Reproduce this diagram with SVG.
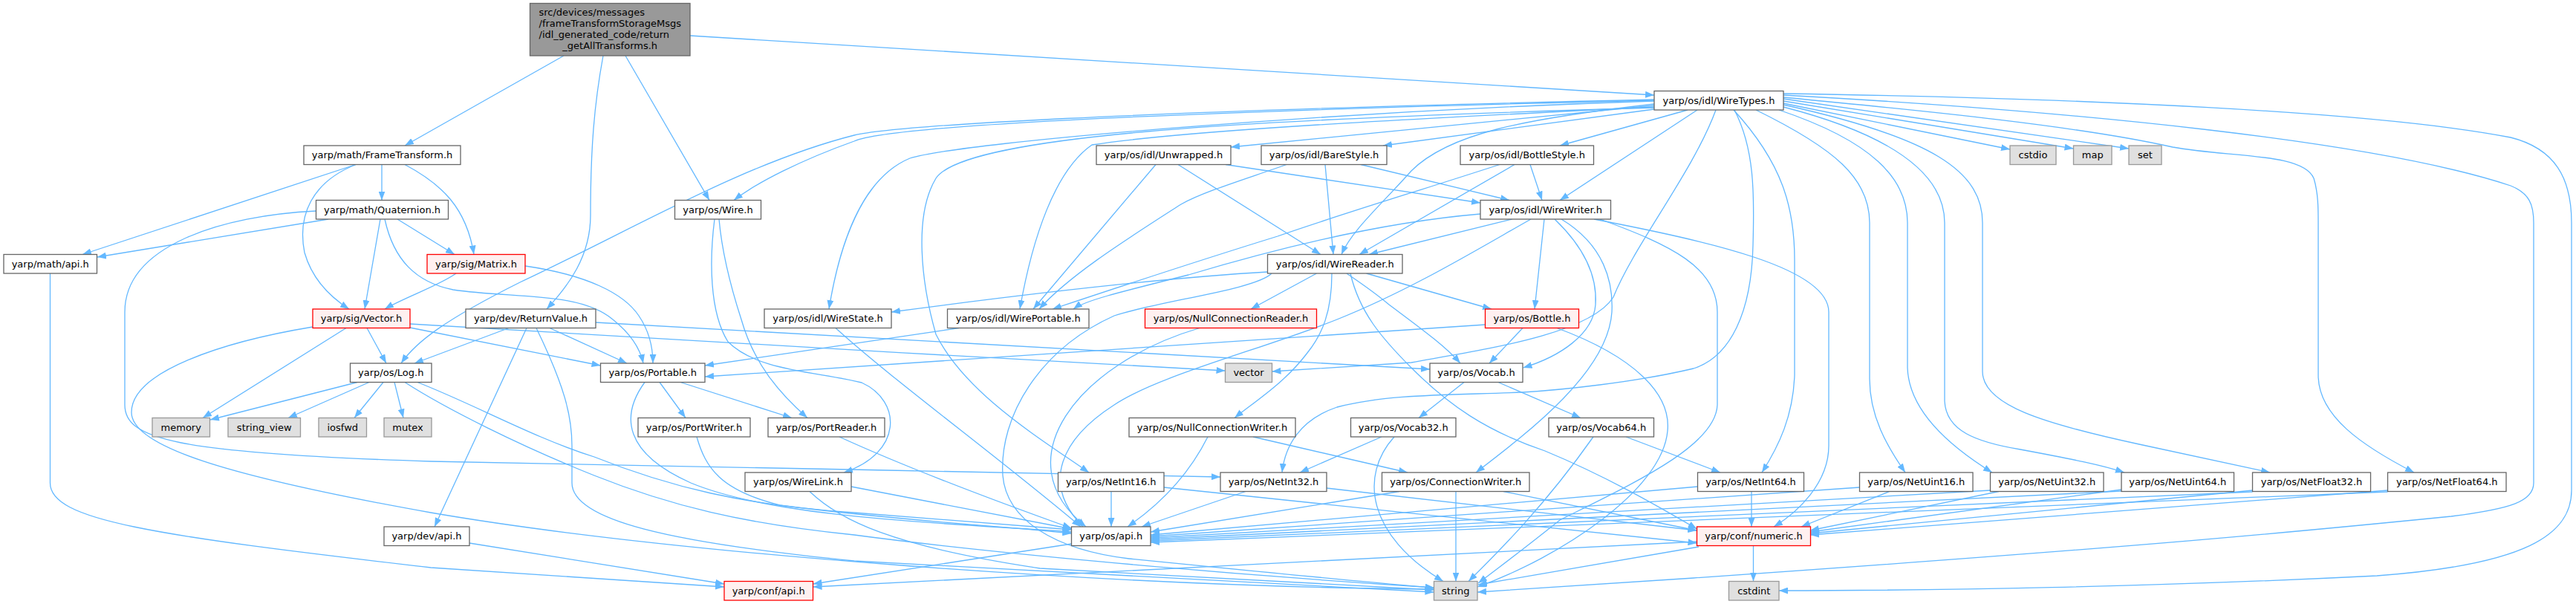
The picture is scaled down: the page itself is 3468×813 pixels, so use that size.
<svg xmlns="http://www.w3.org/2000/svg" width="3468" height="813" viewBox="0 0 3468 813">
<style>
.e{fill:none;stroke:#63B8FF;stroke-width:1.3;marker-end:url(#a)}
.b rect{fill:#FFFFFF;stroke:#666666;stroke-width:1.3}
.g rect{fill:#E0E0E0;stroke:#999999;stroke-width:1.3}
.r rect{fill:#FFF0F0;stroke:#FF0000;stroke-width:1.3}
.root rect{fill:#999999;stroke:#666666;stroke-width:1.3}
text{font-family:"DejaVu Sans","Liberation Sans",sans-serif;font-size:13px;fill:#000000;text-anchor:middle}
.l{text-anchor:start}
</style>
<defs>
<marker id="a" viewBox="0 0 12 9" refX="12" refY="4.5" markerWidth="12" markerHeight="9" markerUnits="userSpaceOnUse" orient="auto"><path d="M0,0 L12,4.5 L0,9 z" fill="#63B8FF"/></marker>
</defs>
<rect width="3468" height="813" fill="#FFFFFF"/>
<g id="edges">
<path class="e" d="M759,75 L545,196"/>
<path class="e" d="M812,75 C800,140 795,200 795,290 C795,345 765,385 736,416"/>
<path class="e" d="M842,75 L955,269.5"/>
<path class="e" d="M929,48 L2227,128"/>
<path class="e" d="M479,221.5 L111,342.5"/>
<path class="e" d="M514,221.5 L514,269.5"/>
<path class="e" d="M545,221.5 C595,248 628,280 638,342.5"/>
<path class="e" d="M479,221.5 C420,245 400,290 410,340 C420,375 445,400 470,416"/>
<path class="e" d="M442,295 L131,346"/>
<path class="e" d="M425.5,284 C300,290 168,330 168,420 L168,545 C168,590 230,610 580,621 C900,630 1300,633 1643,642"/>
<path class="e" d="M512,295 L491,416"/>
<path class="e" d="M518,295 C530,350 560,380 610,390 C690,402 780,392 825,430 C850,450 862,470 866,489"/>
<path class="e" d="M535,295 L612,342.5"/>
<path class="e" d="M614,368 C590,385 545,400 518,416"/>
<path class="e" d="M707,358 C790,370 840,395 860,425 C875,447 879,468 879,489"/>
<path class="e" d="M494,441.5 L520,489"/>
<path class="e" d="M466,441.5 L273,562.5"/>
<path class="e" d="M552,441 L808.5,492"/>
<path class="e" d="M552,436 C800,448 1300,482 1649.5,499"/>
<path class="e" d="M421,440 C300,460 177,500 177,555 C177,600 300,640 580,690 C900,745 1500,790 1930.5,793"/>
<path class="e" d="M481,514.5 L283,565"/>
<path class="e" d="M497,514.5 L388,562.5"/>
<path class="e" d="M516,514.5 L477,562.5"/>
<path class="e" d="M531,514.5 L543,562.5"/>
<path class="e" d="M562,514.5 C640,545 720,590 800,615 C900,655 1000,680 1150,690 L1442.5,713"/>
<path class="e" d="M545,514.5 C600,550 700,600 800,640 C900,680 1000,705 1150,720 C1300,740 1600,770 1930.5,791"/>
<path class="e" d="M888,514.5 L923,562.5"/>
<path class="e" d="M916,514.5 L1066,562.5"/>
<path class="e" d="M868,514.5 C835,560 840,610 930,650 C1050,700 1300,705 1442.5,716"/>
<path class="e" d="M938,588 C950,630 970,660 1050,680 C1200,700 1350,708 1442.5,718"/>
<path class="e" d="M1130,588 C1200,620 1300,660 1442.5,711"/>
<path class="e" d="M968,295 C972,340 985,390 998,430 C1015,490 1050,530 1087,562.5"/>
<path class="e" d="M962,295 C955,350 955,420 980,460 C1020,500 1100,500 1160,515 C1215,540 1215,610 1136,636"/>
<path class="e" d="M1146,655 L1442.5,712"/>
<path class="e" d="M1090,661.5 C1130,700 1200,735 1400,765 L1930.5,794"/>
<path class="e" d="M1125,441.5 C1200,510 1350,620 1455,709"/>
<path class="e" d="M1291,441.5 L949,492"/>
<path class="e" d="M1615,441.5 C1450,490 1350,620 1462,709"/>
<path class="e" d="M1626,588 C1600,640 1560,680 1518,709"/>
<path class="e" d="M1687,588 L1895,636"/>
<path class="e" d="M1496,661.5 L1496,709"/>
<path class="e" d="M1567,656 L2284.5,731"/>
<path class="e" d="M1677,661.5 L1537,709"/>
<path class="e" d="M1786,657 L2284.5,714"/>
<path class="e" d="M1860,588 L1750,636"/>
<path class="e" d="M1877,588 C1830,640 1840,720 1943,782.5"/>
<path class="e" d="M2145,588 C2080,680 2020,740 1977,782.5"/>
<path class="e" d="M2189,588 L2316,636"/>
<path class="e" d="M1971,514.5 L1910,562.5"/>
<path class="e" d="M2017,514.5 L2128,562.5"/>
<path class="e" d="M1999.5,437 L949,507"/>
<path class="e" d="M2050,441.5 L2005,489"/>
<path class="e" d="M2096,441.5 C2200,480 2250,530 2245,580 C2238,660 2100,750 1989,790"/>
<path class="e" d="M1960,661.5 L1960,782.5"/>
<path class="e" d="M2024,661.5 L2284.5,714"/>
<path class="e" d="M1884,661.5 L1549,716"/>
<path class="e" d="M2358,661.5 L2358,709"/>
<path class="e" d="M2285.5,655 L1549,720"/>
<path class="e" d="M2544,661.5 L2425,709"/>
<path class="e" d="M2503.5,656 L1549,722"/>
<path class="e" d="M2691,661.5 L2437,714"/>
<path class="e" d="M2679.5,660 L1549,724"/>
<path class="e" d="M2856,659 L2437,716"/>
<path class="e" d="M2856,661 L1549,726"/>
<path class="e" d="M3032.5,660 L2437,718"/>
<path class="e" d="M3032.5,662 L1549,728"/>
<path class="e" d="M3214.5,660 L2437,720"/>
<path class="e" d="M3214.5,662 L1549,730"/>
<path class="e" d="M2360.5,734.5 L2360.5,782.5"/>
<path class="e" d="M2287,736 L1990,787"/>
<path class="e" d="M2285,729 L1094.5,790"/>
<path class="e" d="M1442.5,732 L1094.5,786"/>
<path class="e" d="M632,731 L975,786"/>
<path class="e" d="M67.5,368 L67.5,650 C67.5,700 200,720 580,764 L975,790"/>
<path class="e" d="M685,441.5 L558,489"/>
<path class="e" d="M740,441.5 L844,489"/>
<path class="e" d="M709,441.5 L585,709"/>
<path class="e" d="M722,441.5 C760,520 770,560 770,600 L770,650 C770,700 900,730 1150,755 L1930.5,797"/>
<path class="e" d="M802,434 L1925,497"/>
<path class="e" d="M2227,142 L1657,198"/>
<path class="e" d="M2227,147 L1862,196"/>
<path class="e" d="M2272,148 L2100,196"/>
<path class="e" d="M2285,148 L2100,269.5"/>
<path class="e" d="M2227,140 C2050,160 1950,180 1900,230 C1860,275 1820,310 1806,342.5"/>
<path class="e" d="M2227,144 C1900,160 1600,175 1470,195 C1420,230 1390,320 1373,416"/>
<path class="e" d="M2227,136 C1800,150 1300,190 1225,213 C1160,240 1130,330 1116,416"/>
<path class="e" d="M2227,135 C1600,150 1200,168 1150,190 C1080,215 1020,245 988,269.5"/>
<path class="e" d="M2227,134 C1500,150 1200,170 1150,182 C1000,220 850,310 700,380 C600,430 560,460 540,489"/>
<path class="e" d="M2227,145 C1700,160 1300,180 1260,240 C1230,290 1240,380 1260,450 C1300,530 1400,590 1466,636"/>
<path class="e" d="M2310,148 C2280,230 2200,330 2172,400 C2140,450 2000,470 1900,488 L1712.5,500"/>
<path class="e" d="M2335,148 C2362,200 2362,260 2360,330 C2358,420 2330,480 2280,496 C2200,515 2100,525 2050,528 C1950,532 1870,530 1800,548 C1750,565 1730,600 1726,636"/>
<path class="e" d="M2334,148 C2400,220 2416,280 2416,350 L2416,505 C2414,560 2395,600 2372,636"/>
<path class="e" d="M2364,148 C2470,200 2517,240 2517,300 L2517,510 C2517,560 2540,600 2565,636"/>
<path class="e" d="M2395,148 C2520,190 2568,240 2568,300 L2568,495 C2570,560 2640,610 2682,636"/>
<path class="e" d="M2401,144 C2560,185 2618,240 2618,300 L2618,540 C2620,580 2660,595 2720,605 C2790,618 2830,626 2860,636"/>
<path class="e" d="M2401,141 C2600,185 2669,230 2669,300 L2669,500 C2669,545 2750,570 2880,598 L3056,636"/>
<path class="e" d="M2401,139 L2706,201"/>
<path class="e" d="M2401,136 L2791.5,200"/>
<path class="e" d="M2401,133 L2866,200"/>
<path class="e" d="M2401,131 C2600,150 2800,170 2925,198 C3000,212 3100,205 3115,240 C3121,260 3121,280 3121,300 L3121,505 C3121,560 3180,600 3250,636"/>
<path class="e" d="M2401,128 C2800,150 3200,190 3380,250 C3405,260 3411,275 3411,300 L3411,650 C3411,675 3380,685 3300,695 C3100,715 2900,735 2280,778 L1989,797"/>
<path class="e" d="M2401,126 C2800,132 3200,150 3380,185 C3440,200 3462,240 3462,300 L3462,660 C3462,720 3400,760 3200,775 C2900,790 2600,795 2395,795"/>
<path class="e" d="M1993,288 C1850,300 1700,340 1600,370 C1500,395 1460,405 1445,416"/>
<path class="e" d="M2035.5,295 L1843,342.5"/>
<path class="e" d="M2061,295 C1990,335 1900,390 1800,430 C1700,470 1560,505 1500,545 C1430,590 1400,650 1458,709"/>
<path class="e" d="M2079,295 L2066,416"/>
<path class="e" d="M2093,295 C2140,340 2150,380 2148,410 C2145,450 2100,480 2050.5,495"/>
<path class="e" d="M2102,295 C2160,330 2172,380 2170,420 C2165,500 2060,580 1987,636"/>
<path class="e" d="M2146,295 C2300,325 2462,360 2462,420 L2462,600 C2462,650 2420,690 2388,709"/>
<path class="e" d="M2154,295 C2250,330 2312,360 2312,420 L2312,545 C2310,600 2200,650 2100,700 C2050,740 2010,770 1990,785"/>
<path class="e" d="M1706.5,366 C1550,375 1350,400 1200,420"/>
<path class="e" d="M1772.5,368 L1684,416"/>
<path class="e" d="M1813,368 C1835,383 1850,393 1870,410 C1910,440 1945,465 1966,489"/>
<path class="e" d="M1818,368 C1830,420 1860,455 1900,495 C1950,545 2000,580 2080,607 C2160,640 2230,680 2284.5,712"/>
<path class="e" d="M1793,368 C1793,420 1780,450 1760,475 C1730,515 1690,540 1662,562.5"/>
<path class="e" d="M1839.5,368 L2008,416"/>
<path class="e" d="M1712,368 C1690,390 1560,405 1500,425 C1400,470 1345,560 1350,640 C1355,700 1420,740 1520,752 C1700,770 1850,785 1930.5,791"/>
<path class="e" d="M1556,221.5 L1391,416"/>
<path class="e" d="M1650,221.5 L1993,273"/>
<path class="e" d="M1586,221.5 L1778,342.5"/>
<path class="e" d="M1732,221.5 C1680,240 1620,258 1590,275 C1520,320 1440,370 1399,416"/>
<path class="e" d="M1784,221.5 L1795,342.5"/>
<path class="e" d="M1832,221.5 L2032,269.5"/>
<path class="e" d="M2019,221.5 C1900,260 1800,290 1720,318 C1600,355 1480,395 1417,416"/>
<path class="e" d="M2039,221.5 L1830,342.5"/>
<path class="e" d="M2060,221.5 L2076,269.5"/>
</g>
<g id="n_root" class="root"><rect x="713.5" y="4.5" width="215.5" height="70.5"/>
<text class="l" x="725.5" y="21">src/devices/messages</text>
<text class="l" x="725.5" y="36">/frameTransformStorageMsgs</text>
<text class="l" x="725.5" y="51">/idl_generated_code/return</text>
<text x="821.2" y="66">_getAllTransforms.h</text></g>
<g id="n_wiretypes" class="b"><rect x="2227" y="122.5" width="174" height="25.5"/><text x="2314" y="139.9">yarp/os/idl/WireTypes.h</text></g>
<g id="n_frametransform" class="b"><rect x="409" y="196" width="211" height="25.5"/><text x="514.5" y="213.4">yarp/math/FrameTransform.h</text></g>
<g id="n_unwrapped" class="b"><rect x="1476" y="196" width="181" height="25.5"/><text x="1566.5" y="213.4">yarp/os/idl/Unwrapped.h</text></g>
<g id="n_barestyle" class="b"><rect x="1698" y="196" width="169" height="25.5"/><text x="1782.5" y="213.4">yarp/os/idl/BareStyle.h</text></g>
<g id="n_bottlestyle" class="b"><rect x="1966" y="196" width="179.5" height="25.5"/><text x="2055.75" y="213.4">yarp/os/idl/BottleStyle.h</text></g>
<g id="n_cstdio" class="g"><rect x="2706" y="196" width="62" height="25.5"/><text x="2737" y="213.4">cstdio</text></g>
<g id="n_map" class="g"><rect x="2791.5" y="196" width="51.5" height="25.5"/><text x="2817.25" y="213.4">map</text></g>
<g id="n_set" class="g"><rect x="2866" y="196" width="44" height="25.5"/><text x="2888" y="213.4">set</text></g>
<g id="n_quaternion" class="b"><rect x="425.5" y="269.5" width="178" height="25.5"/><text x="514.5" y="286.9">yarp/math/Quaternion.h</text></g>
<g id="n_wire" class="b"><rect x="908.5" y="269.5" width="116" height="25.5"/><text x="966.5" y="286.9">yarp/os/Wire.h</text></g>
<g id="n_wirewriter" class="b"><rect x="1993" y="269.5" width="175.5" height="25.5"/><text x="2080.75" y="286.9">yarp/os/idl/WireWriter.h</text></g>
<g id="n_mathapi" class="b"><rect x="5" y="342.5" width="125.5" height="25.5"/><text x="67.75" y="359.9">yarp/math/api.h</text></g>
<g id="n_matrix" class="r"><rect x="575" y="342.5" width="132" height="25.5"/><text x="641" y="359.9">yarp/sig/Matrix.h</text></g>
<g id="n_wirereader" class="b"><rect x="1706.5" y="342.5" width="181.5" height="25.5"/><text x="1797.25" y="359.9">yarp/os/idl/WireReader.h</text></g>
<g id="n_vector_h" class="r"><rect x="421" y="416" width="131" height="25.5"/><text x="486.5" y="433.4">yarp/sig/Vector.h</text></g>
<g id="n_returnvalue" class="b"><rect x="627" y="416" width="175" height="25.5"/><text x="714.5" y="433.4">yarp/dev/ReturnValue.h</text></g>
<g id="n_wirestate" class="b"><rect x="1029" y="416" width="171" height="25.5"/><text x="1114.5" y="433.4">yarp/os/idl/WireState.h</text></g>
<g id="n_wireportable" class="b"><rect x="1275.5" y="416" width="190.5" height="25.5"/><text x="1370.75" y="433.4">yarp/os/idl/WirePortable.h</text></g>
<g id="n_nullconnreader" class="r"><rect x="1541.5" y="416" width="231" height="25.5"/><text x="1657" y="433.4">yarp/os/NullConnectionReader.h</text></g>
<g id="n_bottle" class="r"><rect x="1999.5" y="416" width="126" height="25.5"/><text x="2062.5" y="433.4">yarp/os/Bottle.h</text></g>
<g id="n_log" class="b"><rect x="471.5" y="489" width="109.5" height="25.5"/><text x="526.25" y="506.4">yarp/os/Log.h</text></g>
<g id="n_portable" class="b"><rect x="808.5" y="489" width="140.5" height="25.5"/><text x="878.75" y="506.4">yarp/os/Portable.h</text></g>
<g id="n_vector" class="g"><rect x="1649.5" y="489" width="63" height="25.5"/><text x="1681" y="506.4">vector</text></g>
<g id="n_vocab" class="b"><rect x="1925" y="489" width="125" height="25.5"/><text x="1987.5" y="506.4">yarp/os/Vocab.h</text></g>
<g id="n_memory" class="g"><rect x="205" y="562.5" width="77.5" height="25.5"/><text x="243.75" y="579.9">memory</text></g>
<g id="n_string_view" class="g"><rect x="307" y="562.5" width="97.5" height="25.5"/><text x="355.75" y="579.9">string_view</text></g>
<g id="n_iosfwd" class="g"><rect x="429" y="562.5" width="64.5" height="25.5"/><text x="461.25" y="579.9">iosfwd</text></g>
<g id="n_mutex" class="g"><rect x="517" y="562.5" width="64" height="25.5"/><text x="549" y="579.9">mutex</text></g>
<g id="n_portwriter" class="b"><rect x="859" y="562.5" width="151" height="25.5"/><text x="934.5" y="579.9">yarp/os/PortWriter.h</text></g>
<g id="n_portreader" class="b"><rect x="1034" y="562.5" width="157" height="25.5"/><text x="1112.5" y="579.9">yarp/os/PortReader.h</text></g>
<g id="n_nullconnwriter" class="b"><rect x="1520" y="562.5" width="224" height="25.5"/><text x="1632" y="579.9">yarp/os/NullConnectionWriter.h</text></g>
<g id="n_vocab32" class="b"><rect x="1818.5" y="562.5" width="141.5" height="25.5"/><text x="1889.25" y="579.9">yarp/os/Vocab32.h</text></g>
<g id="n_vocab64" class="b"><rect x="2085" y="562.5" width="141.5" height="25.5"/><text x="2155.75" y="579.9">yarp/os/Vocab64.h</text></g>
<g id="n_wirelink" class="b"><rect x="1003" y="636" width="143" height="25.5"/><text x="1074.5" y="653.4">yarp/os/WireLink.h</text></g>
<g id="n_netint16" class="b"><rect x="1424.5" y="636" width="142.5" height="25.5"/><text x="1495.75" y="653.4">yarp/os/NetInt16.h</text></g>
<g id="n_netint32" class="b"><rect x="1643" y="636" width="143" height="25.5"/><text x="1714.5" y="653.4">yarp/os/NetInt32.h</text></g>
<g id="n_connectionwriter" class="b"><rect x="1860.5" y="636" width="198.5" height="25.5"/><text x="1959.75" y="653.4">yarp/os/ConnectionWriter.h</text></g>
<g id="n_netint64" class="b"><rect x="2285.5" y="636" width="143" height="25.5"/><text x="2357" y="653.4">yarp/os/NetInt64.h</text></g>
<g id="n_netuint16" class="b"><rect x="2503.5" y="636" width="152.5" height="25.5"/><text x="2579.75" y="653.4">yarp/os/NetUint16.h</text></g>
<g id="n_netuint32" class="b"><rect x="2679.5" y="636" width="152.5" height="25.5"/><text x="2755.75" y="653.4">yarp/os/NetUint32.h</text></g>
<g id="n_netuint64" class="b"><rect x="2856" y="636" width="151.5" height="25.5"/><text x="2931.75" y="653.4">yarp/os/NetUint64.h</text></g>
<g id="n_netfloat32" class="b"><rect x="3032.5" y="636" width="159" height="25.5"/><text x="3112" y="653.4">yarp/os/NetFloat32.h</text></g>
<g id="n_netfloat64" class="b"><rect x="3214.5" y="636" width="159.5" height="25.5"/><text x="3294.25" y="653.4">yarp/os/NetFloat64.h</text></g>
<g id="n_devapi" class="b"><rect x="517" y="709" width="115" height="25.5"/><text x="574.5" y="726.4">yarp/dev/api.h</text></g>
<g id="n_osapi" class="b"><rect x="1442.5" y="709" width="106.5" height="25.5"/><text x="1495.75" y="726.4">yarp/os/api.h</text></g>
<g id="n_numeric" class="r"><rect x="2284.5" y="709" width="153" height="25.5"/><text x="2361" y="726.4">yarp/conf/numeric.h</text></g>
<g id="n_confapi" class="r"><rect x="975" y="782.5" width="119.5" height="25.5"/><text x="1034.75" y="799.9">yarp/conf/api.h</text></g>
<g id="n_string" class="g"><rect x="1930.5" y="782.5" width="58.5" height="25.5"/><text x="1959.75" y="799.9">string</text></g>
<g id="n_cstdint" class="g"><rect x="2327.5" y="782.5" width="67.5" height="25.5"/><text x="2361.25" y="799.9">cstdint</text></g>
</svg>
